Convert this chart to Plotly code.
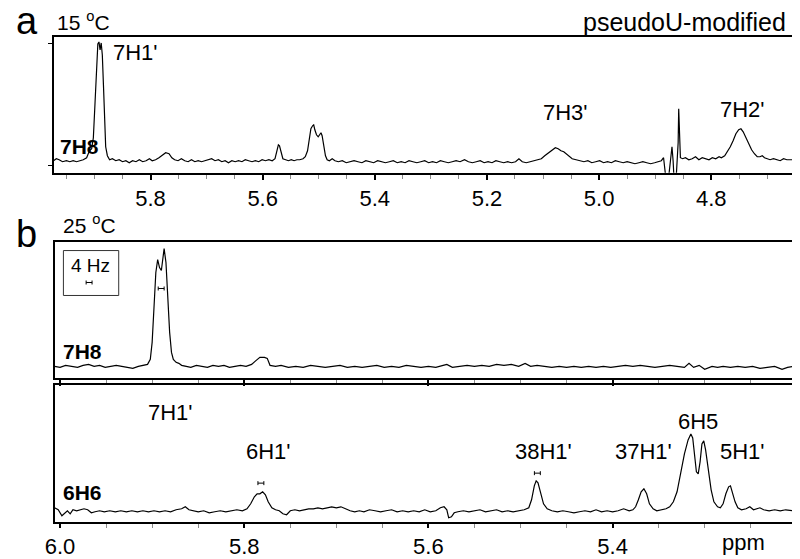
import plotly.graph_objects as go

# ---------------- data (ppm, intensity above baseline) ----------------
# Panel a: 15 C, 7H8 strip
pa_ppm = [5.973, 5.968, 5.963, 5.957, 5.950, 5.944, 5.938, 5.932, 5.926, 5.920, 5.914, 5.909, 5.905,
          5.902, 5.899, 5.896, 5.894, 5.892, 5.890, 5.888, 5.886, 5.884, 5.882, 5.880, 5.877, 5.873,
          5.868, 5.862, 5.856, 5.850, 5.844, 5.838, 5.832, 5.826, 5.820, 5.814, 5.808, 5.802, 5.797,
          5.791, 5.785, 5.779, 5.773, 5.767, 5.762, 5.757, 5.751, 5.745, 5.739, 5.733, 5.727, 5.721,
          5.715, 5.709, 5.703, 5.697, 5.691, 5.685, 5.679, 5.673, 5.667, 5.661, 5.655, 5.649, 5.643,
          5.637, 5.631, 5.625, 5.619, 5.613, 5.607, 5.601, 5.595, 5.589, 5.583, 5.578, 5.575, 5.572,
          5.570, 5.567, 5.564, 5.559, 5.554, 5.549, 5.544, 5.539, 5.534, 5.528, 5.524, 5.520, 5.517,
          5.514, 5.511, 5.509, 5.507, 5.504, 5.501, 5.499, 5.496, 5.494, 5.491, 5.488, 5.485, 5.481,
          5.476, 5.471, 5.465, 5.458, 5.451, 5.444, 5.437, 5.430, 5.423, 5.416, 5.409, 5.402, 5.395,
          5.388, 5.381, 5.374, 5.367, 5.360, 5.353, 5.346, 5.339, 5.332, 5.325, 5.318, 5.311, 5.304,
          5.297, 5.290, 5.283, 5.276, 5.269, 5.262, 5.255, 5.248, 5.240, 5.233, 5.226, 5.219, 5.212,
          5.205, 5.198, 5.191, 5.184, 5.177, 5.170, 5.163, 5.156, 5.149, 5.143, 5.137, 5.130, 5.123,
          5.116, 5.109, 5.103, 5.097, 5.090, 5.083, 5.078, 5.073, 5.068, 5.063, 5.059, 5.054, 5.048,
          5.041, 5.034, 5.027, 5.020, 5.013, 5.006, 4.999, 4.992, 4.985, 4.978, 4.971, 4.964, 4.957,
          4.950, 4.943, 4.936, 4.929, 4.922, 4.915, 4.908, 4.901, 4.894, 4.889, 4.885, 4.882, 4.880,
          4.877, 4.874, 4.872, 4.870, 4.868, 4.866, 4.863, 4.861, 4.859, 4.858, 4.857, 4.855, 4.851,
          4.846, 4.840, 4.834, 4.828, 4.822, 4.816, 4.810, 4.804, 4.798, 4.792, 4.786, 4.782, 4.776,
          4.770, 4.766, 4.761, 4.756, 4.751, 4.747, 4.743, 4.738, 4.733, 4.728, 4.723, 4.718, 4.713,
          4.709, 4.705, 4.700, 4.695, 4.689, 4.683, 4.677, 4.671, 4.665, 4.659, 4.654]
pa_int = [2, 4, 3, 1, 2, 1, 2, 1, 2, 3, 5, 12, 14,
          25, 60, 100, 119, 121, 113, 120, 108, 78, 42, 16, 7, 3,
          4, 2, 3, 1, 2, 0, 2, 1, 3, 1, 2, 4, 2,
          3, 5, 8, 10, 9, 5, 3, 2, 4, 2, 1, 3, 1,
          2, 1, 2, 3, 4, 2, 3, 1, 2, 0, 2, 1, 2,
          1, 3, 2, 1, 2, 1, 3, 2, 3, 2, 4, 11, 18,
          17, 9, 4, 3, 2, 3, 2, 3, 3, 4, 6, 12, 25,
          34, 37, 38, 33, 28, 26, 28, 30, 27, 15, 7, 3, 2,
          4, 2, 1, 2, 0, 1, 2, 1, 0, 2, 1, 0, 2,
          1, 0, 1, 2, 0, 1, 0, 2, 1, 0, 1, 2, 0,
          1, 0, 2, 1, 0, 1, 2, 1, 3, 1, 0, 1, 2,
          0, 1, 0, 2, 1, 0, 1, 0, 1, 4, 1, 0, 1,
          2, 3, 4, 7, 10, 13, 15, 14, 12, 11, 9, 6, 4,
          3, 2, 1, 2, 0, 1, 2, 0, 1, 0, 2, 1, 0,
          1, 0, -1, 0, 1, 0, -1, 0, 1, 2, 5, -12, -20,
          -20, -5, 8, 16, 2, -20, -20, -5, 20, 54, 30, 5, 4,
          5, 3, 4, 6, 3, 5, 4, 3, 5, 4, 6, 5, 7,
          12, 16, 22, 29, 33, 34, 31, 25, 19, 13, 9, 6, 6,
          7, 5, 4, 3, 4, 3, 2, 4, 3, 3, 3]

# Panel b (25 C), 7H8 strip
pb1_ppm = [6.006, 6.000, 5.994, 5.988, 5.981, 5.975, 5.969, 5.963, 5.957, 5.951, 5.945, 5.939, 5.933,
           5.927, 5.921, 5.915, 5.910, 5.905, 5.902, 5.900, 5.898, 5.896, 5.894, 5.892, 5.890, 5.888,
           5.887, 5.885, 5.883, 5.881, 5.879, 5.877, 5.874, 5.871, 5.868, 5.864, 5.858, 5.852, 5.846,
           5.840, 5.834, 5.828, 5.822, 5.816, 5.810, 5.804, 5.798, 5.792, 5.787, 5.783, 5.778, 5.775,
           5.772, 5.766, 5.760, 5.752, 5.744, 5.736, 5.728, 5.720, 5.712, 5.704, 5.696, 5.688, 5.680,
           5.672, 5.664, 5.656, 5.648, 5.640, 5.632, 5.624, 5.616, 5.608, 5.600, 5.592, 5.584, 5.580,
           5.574, 5.566, 5.558, 5.550, 5.542, 5.534, 5.526, 5.518, 5.510, 5.502, 5.495, 5.489, 5.482,
           5.474, 5.466, 5.458, 5.450, 5.442, 5.434, 5.426, 5.418, 5.410, 5.402, 5.394, 5.386, 5.378,
           5.370, 5.362, 5.354, 5.346, 5.338, 5.330, 5.322, 5.317, 5.312, 5.306, 5.300, 5.292, 5.286,
           5.280, 5.272, 5.264, 5.256, 5.248, 5.240, 5.232, 5.224, 5.216, 5.210, 5.204]
pb1_int = [1, 0, 2, 1, 0, 2, 3, 1, 2, 0, 1, 2, 1,
           0, -1, 1, 2, 3, 8, 25, 60, 95, 108, 100, 97, 112,
           119, 105, 70, 35, 15, 8, 5, 4, 2, 1, 0, 2, 1,
           0, 2, 1, 2, 0, 1, 2, 1, 3, 7, 10, 10, 9,
           2, 1, 2, 0, 1, 0, 2, 1, 0, 1, 2, 0, 1,
           0, 1, 2, 0, 1, 0, 2, 1, 0, 1, 0, 2, 3,
           0, 1, 2, 1, 2, 1, 3, 2, 3, 1, 4, 1, 2,
           1, 0, 1, 0, 1, 0, 1, 0, 1, 0, 1, 2, 1,
           2, 1, 0, 1, 2, 1, 0, 4, 0, 2, -2, 1, 0,
           1, 0, 1, 0, 1, -1, 0, 1, -2, 0, 1]

# Panel b (25 C), 6H6 strip
pb2_ppm = [6.006, 6.002, 5.998, 5.995, 5.992, 5.989, 5.986, 5.982, 5.978, 5.974, 5.970, 5.966, 5.962,
           5.957, 5.952, 5.946, 5.940, 5.934, 5.928, 5.922, 5.916, 5.910, 5.904, 5.898, 5.892, 5.886,
           5.880, 5.874, 5.868, 5.864, 5.860, 5.855, 5.850, 5.844, 5.838, 5.832, 5.826, 5.820, 5.814,
           5.808, 5.802, 5.797, 5.793, 5.789, 5.786, 5.783, 5.780, 5.777, 5.774, 5.770, 5.766, 5.762,
           5.758, 5.754, 5.750, 5.745, 5.740, 5.735, 5.730, 5.725, 5.720, 5.715, 5.710, 5.705, 5.700,
           5.695, 5.690, 5.685, 5.680, 5.675, 5.670, 5.664, 5.658, 5.652, 5.646, 5.640, 5.634, 5.628,
           5.622, 5.616, 5.610, 5.604, 5.598, 5.592, 5.587, 5.583, 5.580, 5.578, 5.575, 5.572, 5.568,
           5.562, 5.556, 5.550, 5.544, 5.538, 5.532, 5.526, 5.520, 5.514, 5.508, 5.502, 5.496, 5.491,
           5.488, 5.485, 5.483, 5.481, 5.478, 5.475, 5.471, 5.466, 5.460, 5.454, 5.448, 5.442, 5.436,
           5.430, 5.424, 5.418, 5.412, 5.406, 5.400, 5.394, 5.388, 5.382, 5.378, 5.375, 5.372, 5.369,
           5.366, 5.363, 5.360, 5.356, 5.352, 5.347, 5.342, 5.338, 5.334, 5.330, 5.326, 5.322, 5.318,
           5.315, 5.313, 5.311, 5.309, 5.307, 5.305, 5.303, 5.301, 5.299, 5.296, 5.293, 5.290, 5.286,
           5.283, 5.280, 5.277, 5.274, 5.272, 5.270, 5.267, 5.264, 5.260, 5.255, 5.251, 5.247, 5.243,
           5.240, 5.236, 5.230, 5.224, 5.218, 5.212, 5.206, 5.204]
pb2_int = [4, 2, -4, -1, 1, -2, 2, 1, 2, 3, 2, -1, 0,
           1, 0, 1, 0, 1, 0, 1, 0, 1, 0, 1, 0, 1,
           0, 2, 3, 5, 2, 1, 0, 1, -1, 0, 1, 0, 1,
           2, 1, 3, 8, 15, 18, 18, 20, 17, 10, 4, 2, 1,
           -2, -3, 1, 2, 1, 2, 3, 3, 4, 3, 4, 5, 4,
           5, 3, 1, 0, 1, 0, 2, 1, 0, 1, 2, 0, 1,
           0, 1, 0, 2, 0, 1, 4, 5, 2, -6, -5, -1, 0,
           1, 0, 1, 2, 0, 1, 2, 0, 1, 0, 1, 2, 4,
           12, 26, 31, 29, 18, 8, 3, 1, 0, 1, 0, -1, 0,
           1, 0, 2, 0, 1, 0, 1, 3, 1, 2, 5, 12, 20,
           23, 18, 8, 3, 1, 2, 3, 5, 10, 20, 38, 58, 72,
           78, 74, 55, 40, 38, 50, 68, 71, 62, 42, 22, 10, 5,
           4, 8, 18, 25, 26, 20, 10, 4, 2, 3, 5, 2, 3,
           4, 2, 1, 2, 1, 2, 1, 1]

a_ticks = [5.8, 5.6, 5.4, 5.2, 5.0, 4.8]
b_ticks = [6.0, 5.8, 5.6, 5.4]
b_ticktext = ["6.0", "5.8", "5.6", "5.4"]

# ---------------- helpers ----------------
# The page body adds an 8px margin, so the figure is 792x551 and screen pixel
# coordinates are converted by subtracting that offset.
OFF = 8
W, H = 800 - OFF, 559 - OFF
def px(x): return (x - OFF) / W
def py(y): return 1 - (y - OFF) / H

FONT = "Liberation Sans, Arial, sans-serif"
line = dict(color="black", width=1.2)

fig = go.Figure()
fig.add_trace(go.Scatter(x=pa_ppm, y=pa_int, mode="lines", line=line, xaxis="x", yaxis="y", hoverinfo="skip"))
fig.add_trace(go.Scatter(x=pb1_ppm, y=pb1_int, mode="lines", line=line, xaxis="x2", yaxis="y2", hoverinfo="skip"))
fig.add_trace(go.Scatter(x=pb2_ppm, y=pb2_int, mode="lines", line=line, xaxis="x3", yaxis="y3", hoverinfo="skip"))

minor = dict(dtick=0.05, ticks="outside", ticklen=4, tickcolor="#8a8a8a", tickwidth=1, showgrid=False)
common_x = dict(showline=True, linecolor="black", linewidth=2, mirror=True, showgrid=False, zeroline=False,
                ticks="outside", tickcolor="black", tickwidth=1.5, ticklen=5,
                tickfont=dict(family=FONT, size=22, color="black"))
common_y = dict(showline=True, linecolor="black", linewidth=2, mirror=True, showgrid=False, zeroline=False,
                showticklabels=False)

fig.update_layout(
    width=W, height=H, margin=dict(l=0, r=0, t=0, b=0),
    paper_bgcolor="white", plot_bgcolor="white", showlegend=False,
    xaxis=dict(common_x, domain=[px(44), px(793)], anchor="y", range=[5.973, 4.654],
               tickvals=a_ticks, ticktext=[f"{v:.1f}" for v in a_ticks], minor=dict(minor, tick0=0)),
    yaxis=dict(common_y, domain=[py(173), py(37)], anchor="x", range=[-10, 126],
               ticks="outside", tickvals=[-3, 119], ticklen=4, tickcolor="black"),
    xaxis2=dict(common_x, domain=[px(45), px(793)], anchor="y2", range=[6.006, 5.204],
                tickvals=b_ticks, showticklabels=False, ticklen=6, tickwidth=2, minor=dict(minor, tick0=0, ticklen=5)),
    yaxis2=dict(common_y, domain=[py(379), py(242)], anchor="x2", range=[-11, 126], ticks=""),
    xaxis3=dict(common_x, domain=[px(45), px(793)], anchor="y3", range=[6.006, 5.204],
                tickvals=b_ticks, ticktext=b_ticktext, ticklen=4, minor=dict(minor, tick0=0, ticklen=4)),
    yaxis3=dict(common_y, domain=[py(523), py(386)], anchor="x3", range=[-10.3, 126.7], ticks=""),
)

def txt(x, y, s, size=22, bold=False, xanchor="center", height=None):
    fig.add_annotation(x=px(x), y=py(y), xref="paper", yref="paper", text=(f"<b>{s}</b>" if bold else s),
                       showarrow=False, xanchor=xanchor, yanchor="middle", height=height, valign="middle",
                       font=dict(family=FONT, size=size, color="black"))

# panel a texts
txt(17, 21, "a", size=38, height=26)
txt(45, 21, "15 <sup>o</sup>C", size=21, xanchor="left")
txt(788, 22, "pseudoU-modified", size=25, xanchor="right")
txt(127, 53, "7H1'", size=22)
txt(70, 147, "7H8", size=21, bold=True)
txt(562, 113, "7H3'", size=22)
txt(742, 110, "7H2'", size=22)

# panel b texts
txt(17, 234, "b", size=38)
txt(52, 224, "25 <sup>o</sup>C", size=21, xanchor="left")
txt(73, 352, "7H8", size=21, bold=True)
txt(73, 493, "6H6", size=21, bold=True)
txt(162, 413, "7H1'", size=22)
txt(262, 452, "6H1'", size=22)
txt(540, 452, "38H1'", size=22)
txt(642, 452, "37H1'", size=22)
txt(697, 422, "6H5", size=22)
txt(742, 452, "5H1'", size=22)
txt(743, 543, "ppm", size=22)

# inset 4 Hz box
fig.add_shape(type="rect", xref="paper", yref="paper", x0=px(54), x1=px(110), y0=py(296), y1=py(251),
              line=dict(color="#333", width=1))
txt(81, 266, "4 Hz", size=19)

def hbar_paper(xc, y, w=6):
    fig.add_shape(type="line", xref="paper", yref="paper", x0=px(xc - w / 2), x1=px(xc + w / 2), y0=py(y), y1=py(y),
                  line=dict(color="black", width=1))
    for xx in (xc - w / 2, xc + w / 2):
        fig.add_shape(type="line", xref="paper", yref="paper", x0=px(xx), x1=px(xx), y0=py(y - 2), y1=py(y + 2),
                      line=dict(color="black", width=1))

hbar_paper(80, 283)
hbar_paper(153, 289)
hbar_paper(254, 484)
hbar_paper(534, 474)

fig.write_html("out.html")
